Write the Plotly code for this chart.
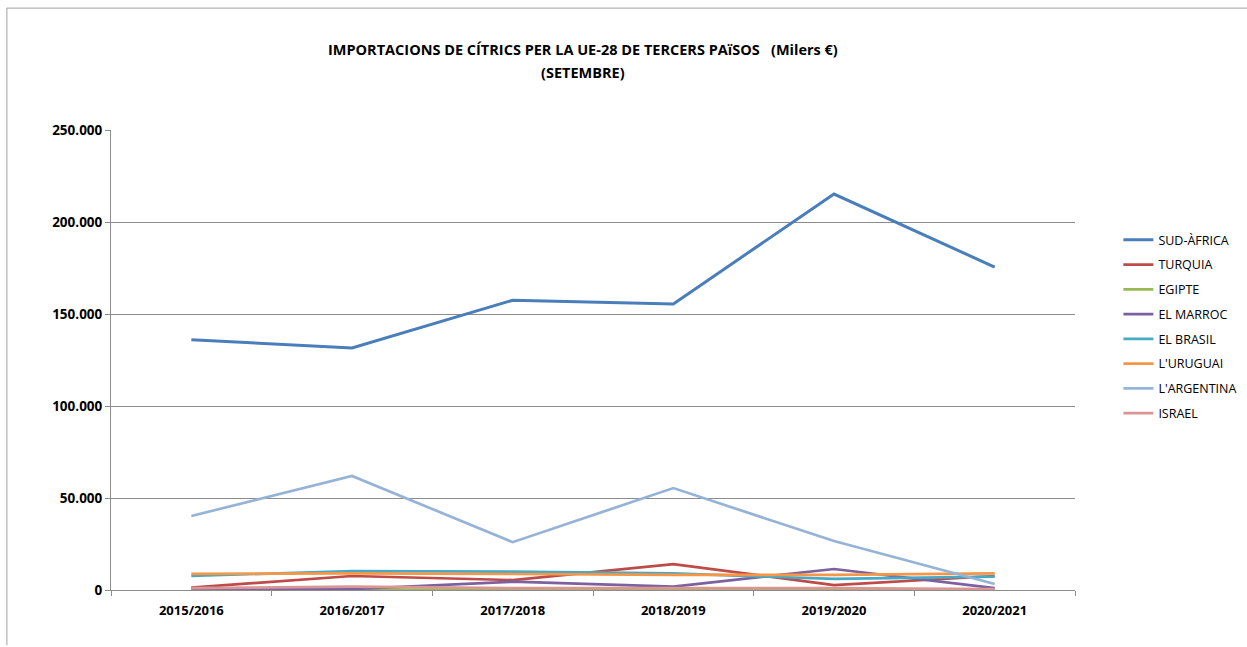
import plotly.graph_objects as go

campaigns = ["2015/2016", "2016/2017", "2017/2018", "2018/2019", "2019/2020", "2020/2021"]

sud_africa = [136000, 131500, 157500, 155500, 215200, 175500]
turquia = [1300, 7600, 5400, 14100, 2700, 7600]
egipte = [200, 200, 300, 300, 200, 200]
el_marroc = [500, 500, 4500, 1800, 11400, 1000]
el_brasil = [7600, 10300, 10000, 9000, 6000, 7300]
l_uruguai = [8800, 9000, 8700, 8200, 8200, 9000]
l_argentina = [40200, 62000, 26000, 55400, 26600, 3300]
israel = [1000, 1800, 1000, 1000, 1000, 500]

series_names = ["SUD-ÀFRICA", "TURQUIA", "EGIPTE", "EL MARROC", "EL BRASIL",
                "L'URUGUAI", "L'ARGENTINA", "ISRAEL"]
series_values = [sud_africa, turquia, egipte, el_marroc, el_brasil,
                 l_uruguai, l_argentina, israel]
colors = ["#4A7EBB", "#BE4B48", "#98B954", "#7D60A0", "#46AAC5",
          "#F79646", "#95B3D7", "#D99694"]

y_tick_vals = [0, 50000, 100000, 150000, 200000, 250000]
y_tick_text = ["0", "50.000", "100.000", "150.000", "200.000", "250.000"]

title_line1 = "IMPORTACIONS DE CÍTRICS PER LA UE-28 DE TERCERS PAïSOS   (Milers €)"
title_line2 = "(SETEMBRE)"

fig = go.Figure()
for i in range(len(series_names)):
    fig.add_trace(go.Scatter(
        x=campaigns, y=series_values[i], name=series_names[i], mode="lines",
        legendgroup=series_names[i],
        line=dict(color=colors[i], width=3 if i == 0 else 2.7),
    ))

title_font = dict(family="Open Sans", size=14.5, color="#000000", weight="bold")

fig.update_layout(
    width=1247, height=647,
    margin=dict(l=111, r=172, t=130, b=57, autoexpand=False),
    paper_bgcolor="white", plot_bgcolor="white",
    font=dict(family="Open Sans", color="#000000"),
    showlegend=True,
    legend=dict(x=1.045, y=0.793, xanchor="left", yanchor="top",
                font=dict(family="Open Sans", size=12.5, color="#000000"),
                tracegroupgap=5.5, itemwidth=30, bgcolor="rgba(0,0,0,0)"),
    xaxis=dict(type="category", range=[-0.5, 5.5], tickson="boundaries",
               ticks="outside", ticklen=5, automargin=False,
               tickcolor="#8C8C8C", showline=True, linecolor="#8C8C8C", linewidth=1,
               showgrid=False, ticklabelstandoff=8,
               tickfont=dict(family="Open Sans", size=13, color="#000000", weight="bold")),
    yaxis=dict(range=[0, 250000], tickvals=y_tick_vals, ticktext=y_tick_text,
               ticks="outside", ticklen=5, tickcolor="#8C8C8C", automargin=False,
               showline=True, linecolor="#8C8C8C", linewidth=1,
               showgrid=True, gridcolor="#8C8C8C", gridwidth=1, zeroline=False,
               tickfont=dict(family="Open Sans", size=13.5, color="#000000", weight="bold")),
    annotations=[
        dict(text=title_line1, xref="paper", yref="paper", x=0.4896, y=1.174,
             xanchor="center", yanchor="middle", showarrow=False, font=title_font),
        dict(text=title_line2, xref="paper", yref="paper", x=0.4896, y=1.126,
             xanchor="center", yanchor="middle", showarrow=False, font=title_font),
    ],
    shapes=[
        dict(type="line", xref="paper", yref="paper", x0=-0.108, x1=1.2, y0=1.265, y1=1.265,
             line=dict(color="#A0A0A0", width=1)),
        dict(type="line", xref="paper", yref="paper", x0=-0.108, x1=-0.108, y0=1.265, y1=-0.12,
             line=dict(color="#A0A0A0", width=1)),
    ],
)

fig.write_html("out.html", config={"displayModeBar": False},
               post_script="document.body.style.margin='0px';")
